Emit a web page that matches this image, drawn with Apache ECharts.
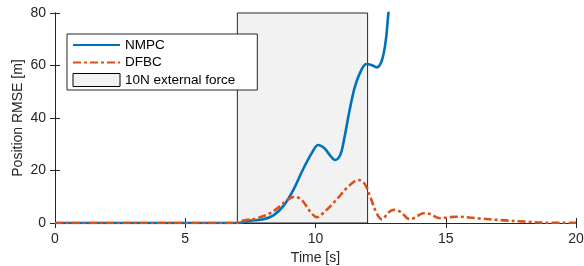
<!DOCTYPE html>
<html>
<head>
<meta charset="utf-8">
<script src="https://cdn.jsdelivr.net/npm/echarts@6/dist/echarts.min.js"></script>
<style>
  html, body { margin: 0; padding: 0; background: #fff; }
  #chart { width: 584px; height: 266px; }
</style>
</head>
<body>
<div id="chart"></div>
<script>
  // values
  var xTicks = [0, 5, 10, 15, 20];
  var yTicks = [0, 20, 40, 60, 80];
  var forceWindow = [7, 12];

  var nmpcTime = [0, 7, 7.5, 8.0, 8.4, 8.8, 9.15, 9.5, 9.85, 10.1, 10.35, 10.55, 10.75, 10.95, 11.1, 11.3, 11.5, 11.7, 11.95, 12.15, 12.35, 12.55, 12.7, 12.8, 13.0];
  var nmpcRmse = [0, 0, 0.9, 1.4, 3.0, 6.9, 12.6, 20.0, 26.5, 29.7, 28.4, 25.9, 24.0, 25.9, 32.0, 42.5, 51.5, 57.0, 60.6, 60.2, 59.3, 62.0, 69.7, 80.0, 95.0];

  var dfbcTime = [0, 7, 7.25, 7.75, 8.25, 8.65, 8.95, 9.2, 9.47, 9.8, 10.05, 10.35, 10.8, 11.25, 11.65, 11.88, 12.1, 12.35, 12.55, 12.8, 13.0, 13.25, 13.63, 13.9, 14.15, 14.4, 14.78, 15.1, 15.42, 16.2, 17.1, 18.1, 18.9, 20.0];
  var dfbcRmse = [0, 0, 0.9, 1.8, 3.7, 6.5, 9.0, 10.0, 8.8, 4.3, 2.2, 4.3, 8.8, 13.8, 16.4, 15.0, 10.0, 3.7, 1.4, 4.0, 5.0, 4.3, 1.4, 2.6, 3.7, 3.4, 1.8, 2.2, 2.4, 1.8, 1.1, 0.5, 0.1, 0.1];

  function pairs(ts, vs) {
    var out = [];
    for (var i = 0; i < ts.length; i++) out.push([ts[i], vs[i]]);
    return out;
  }

  var font = "'Liberation Sans', Arial, sans-serif";
  var ink = '#262626';
  var hidden = { color: 'rgba(0,0,0,0)', borderWidth: 0, opacity: 0 };

  var chart = echarts.init(document.getElementById('chart'));
  chart.setOption({
    animation: false,
    textStyle: { fontFamily: font },
    grid: { left: 55, right: 8, top: 13, bottom: 43, outerBoundsMode: 'none' },
    legend: {
      orient: 'vertical',
      left: 67,
      top: 34,
      padding: [4, 22, 3, 5],
      itemWidth: 47,
      itemHeight: 13,
      itemGap: 3.5,
      backgroundColor: '#fff',
      borderColor: '#262626',
      borderWidth: 1,
      borderRadius: 0,
      textStyle: { fontFamily: font, fontSize: 13.5, color: '#000', lineHeight: 14 },
      data: [
        { name: 'NMPC', itemStyle: hidden },
        { name: 'DFBC', itemStyle: hidden },
        { name: '10N external force', icon: 'rect',
          itemStyle: { color: '#f2f2f2', borderColor: '#000', borderWidth: 1 } }
      ]
    },
    xAxis: [{
      type: 'value', min: 0, max: 20, interval: 5,
      name: 'Time [s]', nameLocation: 'middle', nameGap: 28, nameMoveOverlap: false,
      nameTextStyle: { fontSize: 14, color: ink },
      axisLine: { show: true, lineStyle: { color: ink } },
      axisTick: { inside: true, length: 5, lineStyle: { color: ink } },
      axisLabel: { fontSize: 14, color: ink, margin: 9,
        formatter: function (v) { return xTicks.indexOf(v) >= 0 ? String(v) : ''; } },
      splitLine: { show: false }
    }, {
      type: 'value', min: 0, max: 20, interval: 5, position: 'top',
      axisLine: { show: true, lineStyle: { color: ink } },
      axisTick: { inside: true, length: 5, lineStyle: { color: ink } },
      axisLabel: { show: false },
      splitLine: { show: false }
    }],
    yAxis: [{
      type: 'value', min: 0, max: 80, interval: 20,
      name: 'Position RMSE [m]', nameLocation: 'middle', nameGap: 30, nameMoveOverlap: false,
      nameTextStyle: { fontSize: 14, color: ink },
      axisLine: { show: true, lineStyle: { color: ink } },
      axisTick: { inside: true, length: 5, lineStyle: { color: ink } },
      axisLabel: { fontSize: 14, color: ink, margin: 9,
        formatter: function (v) { return yTicks.indexOf(v) >= 0 ? String(v) : ''; } },
      splitLine: { show: false }
    }, {
      type: 'value', min: 0, max: 80, interval: 20, position: 'right',
      axisLine: { show: true, lineStyle: { color: ink } },
      axisTick: { inside: true, length: 5, lineStyle: { color: ink } },
      axisLabel: { show: false },
      splitLine: { show: false }
    }],
    series: [{
      name: '10N external force',
      type: 'line',
      data: [],
      z: 1,
      markArea: {
        silent: true,
        itemStyle: { color: '#f2f2f2', borderColor: ink, borderWidth: 1, opacity: 1 },
        data: [[{ xAxis: forceWindow[0] }, { xAxis: forceWindow[1] }]]
      }
    }, {
      name: 'NMPC',
      type: 'line',
      smooth: 0.35,
      symbol: 'none',
      clip: true,
      z: 3,
      color: '#0072BD',
      lineStyle: { color: '#0072BD', width: 2.6 },
      data: pairs(nmpcTime, nmpcRmse)
    }, {
      name: 'DFBC',
      type: 'line',
      smooth: 0.35,
      symbol: 'none',
      clip: true,
      z: 4,
      color: '#D95319',
      lineStyle: { color: '#D95319', width: 2.6, type: [8, 3, 3, 3] },
      data: pairs(dfbcTime, dfbcRmse)
    }]
  });
</script>
</body>
</html>
